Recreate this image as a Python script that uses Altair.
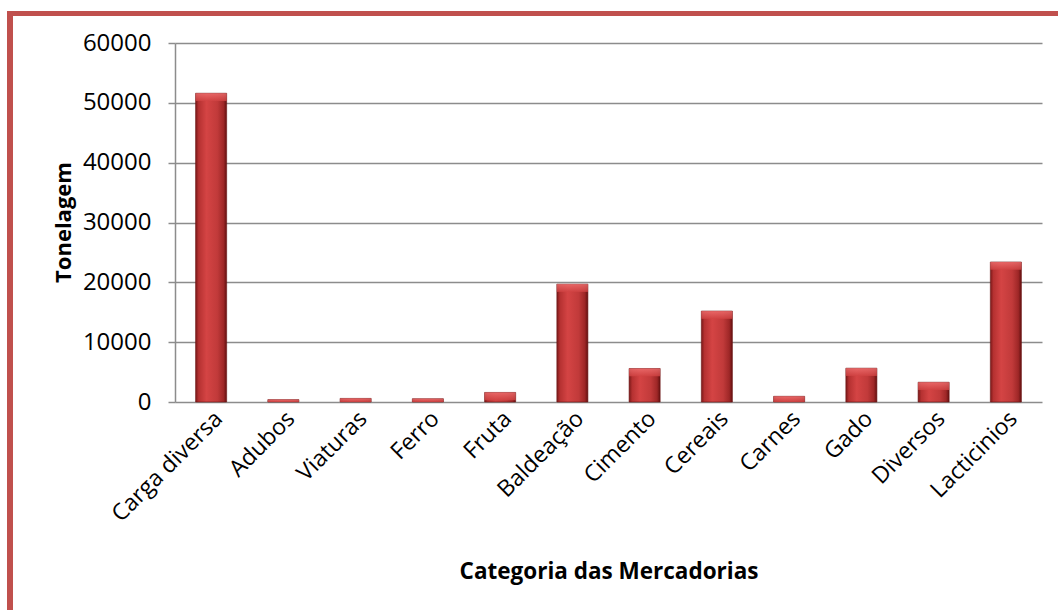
import altair as alt
import pandas as pd

categories = ["Carga diversa", "Adubos", "Viaturas", "Ferro", "Fruta", "Baldeação",
              "Cimento", "Cereais", "Carnes", "Gado", "Diversos", "Lacticinios"]
values = [51600, 400, 600, 550, 1600, 19700, 5600, 15200, 950, 5650, 3300, 23400]
y_ticks = [0, 10000, 20000, 30000, 40000, 50000, 60000]

df = pd.DataFrame({"cat": categories, "v": values})

W, H = 867, 359
FONT = "Open Sans"
FRAME = "#C0504D"

x_scale = alt.Scale(paddingInner=0.57, paddingOuter=0.285)

x_enc = alt.X("cat:N", sort=categories, title="Categoria das Mercadorias", scale=x_scale,
              axis=alt.Axis(labelAngle=-45, labelAlign="right", labelBaseline="top",
                            labelFontSize=23, labelFont=FONT, labelColor="#000000",
                            labelPadding=5, ticks=False, domain=False,
                            titleFont=FONT, titleFontSize=22.5, titleFontWeight="bold",
                            titleColor="#000000", titleY=176, titleBaseline="alphabetic"))

y_scale = alt.Scale(domain=[0, 60000], nice=False)

bar_fill = alt.Gradient(
    gradient="linear", x1=0, x2=1, y1=0, y2=0,
    stops=[alt.GradientStop(offset=0, color="#7A1818"),
           alt.GradientStop(offset=0.1, color="#B53131"),
           alt.GradientStop(offset=0.35, color="#D44444"),
           alt.GradientStop(offset=0.7, color="#C13A3A"),
           alt.GradientStop(offset=0.9, color="#9E2727"),
           alt.GradientStop(offset=1, color="#621010")])

bars = alt.Chart(df).mark_bar(fill=bar_fill, stroke="#6B1515", strokeWidth=0.6).encode(
    x=x_enc,
    y=alt.Y("v:Q", scale=y_scale, title="Tonelagem",
            axis=alt.Axis(values=y_ticks, format="d", grid=True, gridColor="#8C8C8C",
                          gridWidth=1.5, domainColor="#8C8C8C", domainWidth=1.5,
                          tickColor="#8C8C8C", tickWidth=1.5, tickSize=7,
                          labelFont=FONT, labelFontSize=24, labelColor="#000000",
                          labelPadding=17,
                          titleFont=FONT, titleFontSize=22, titleFontWeight="bold",
                          titleColor="#000000", titleAngle=-90, titleX=-105, titleY=179,
                          titleAlign="center", titleBaseline="alphabetic")),
)

bevel_fill = alt.Gradient(
    gradient="linear", x1=0, x2=0, y1=0, y2=1,
    stops=[alt.GradientStop(offset=0, color="#EE7070"),
           alt.GradientStop(offset=1, color="#D04242")])

bevel = alt.Chart(df).transform_calculate(
    v2="max(0, datum.v - 1300)"
).mark_bar(fill=bevel_fill, opacity=0.8).encode(
    x=alt.X("cat:N", sort=categories, scale=x_scale),
    y=alt.Y("v:Q", scale=y_scale),
    y2="v2:Q",
)

frame_left = alt.Chart(df).mark_rule(color=FRAME, strokeWidth=5).encode(
    x=alt.value(-165), y=alt.value(-32), y2=alt.value(570))
frame_top = alt.Chart(df).mark_rule(color=FRAME, strokeWidth=5).encode(
    x=alt.value(-167.5), x2=alt.value(885), y=alt.value(-29.5))

chart = alt.layer(bars, bevel, frame_left, frame_top).properties(
    width=W, height=H,
    autosize=alt.AutoSizeParams(type="none"),
    padding={"left": 175, "top": 43, "right": 16, "bottom": 208},
    background="white",
).configure_view(stroke=None)

chart.save("out.html", embed_options={"renderer": "svg", "actions": False})
